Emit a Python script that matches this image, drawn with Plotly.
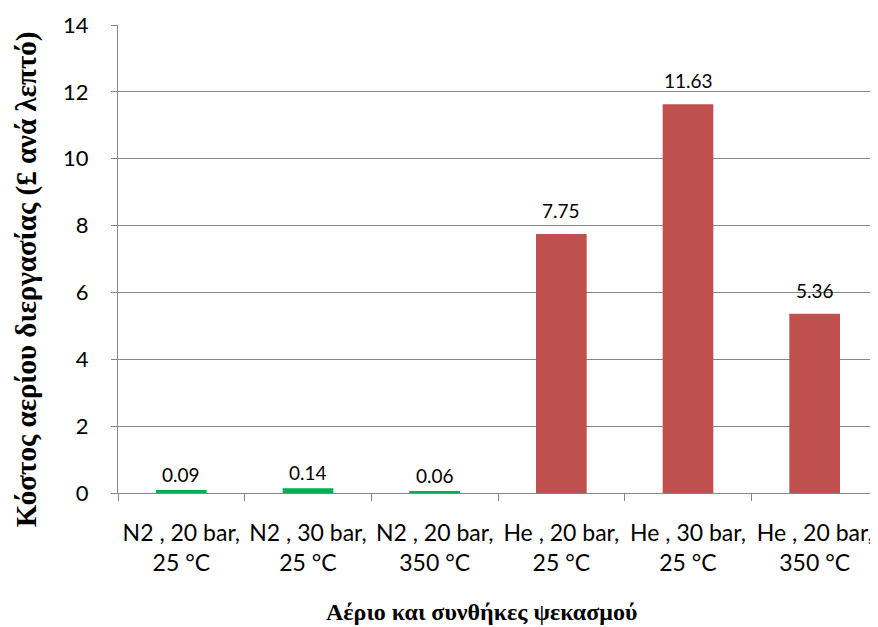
import plotly.graph_objects as go

categories = ["N2 , 20 bar,<br>25 °C", "N2 , 30 bar,<br>25 °C", "N2 , 20 bar,<br>350 °C",
              "He , 20 bar,<br>25 °C", "He , 30 bar,<br>25 °C", "He , 20 bar,<br>350 °C"]
values = [0.09, 0.14, 0.06, 7.75, 11.63, 5.36]
labels = ["0.09", "0.14", "0.06", "7.75", "11.63", "5.36"]
colors = ["#00B050", "#00B050", "#00B050", "#C0504D", "#C0504D", "#C0504D"]
y_ticks = [0, 2, 4, 6, 8, 10, 12, 14]

fig = go.Figure()
fig.add_trace(go.Bar(x=categories, y=values, marker_color=colors, marker_line_width=0,
                     width=0.4, showlegend=False))

for c, v, t in zip(categories, values, labels):
    shift = 10 if v > 1 else 2
    fig.add_annotation(x=c, y=v, text=t, showarrow=False, yanchor="bottom", yshift=shift,
                       font=dict(family="Lato", size=19, color="#000"))

fig.add_annotation(xref="paper", yref="paper", x=-0.121, y=0.457, xanchor="center", yanchor="middle",
                   text="<b>Κόστος αερίου διεργασίας (£ ανά λεπτό)</b>",
                   textangle=-90, showarrow=False, font=dict(family="Liberation Serif", size=29, color="#000"))
fig.add_annotation(xref="paper", yref="paper", x=0.478, y=-0.255, xanchor="center", yanchor="middle",
                   text="<b>Αέριο και συνθήκες ψεκασμού</b>",
                   showarrow=False, font=dict(family="Liberation Serif", size=24, color="#000"))

fig.update_layout(
    width=870, height=619,
    margin=dict(l=110, r=0, t=17, b=134),
    plot_bgcolor="white", paper_bgcolor="white",
    bargap=0.6,
)
fig.update_xaxes(range=[-0.5, 5.5], showline=True, linecolor="#868686", linewidth=1,
                 ticks="outside", tickson="boundaries", ticklen=7, tickcolor="#868686",
                 tickfont=dict(family="Lato", size=23, color="#000"), ticklabelstandoff=19,
                 showgrid=False, automargin=False)
fig.update_yaxes(range=[0, 14], tickvals=y_ticks, showline=True, linecolor="#868686", linewidth=1,
                 ticks="outside", ticklen=6, tickcolor="#868686", showgrid=True, gridcolor="#868686",
                 gridwidth=1, zeroline=False, automargin=False,
                 tickfont=dict(family="Lato", size=22, color="#000"), ticklabelstandoff=18)

fig.write_html("out.html")
